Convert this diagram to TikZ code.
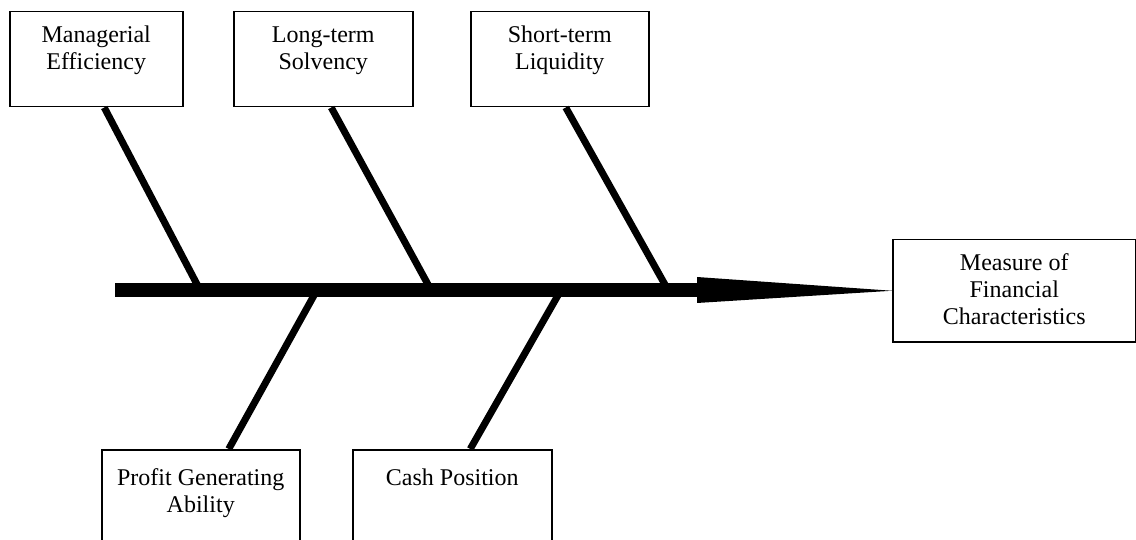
\documentclass[tikz,border=0pt]{standalone}
\usepackage{fontspec}
\setmainfont{Liberation Serif}

\begin{document}
\begin{tikzpicture}[x=1pt,y=-1pt,font=\fontsize{24}{27}\selectfont,
    cause/.style={draw,line width=1.5pt,align=center,inner xsep=0pt,inner ysep=0pt,anchor=north west},
    bone/.style={line width=7pt}]
      \useasboundingbox (0,0) rectangle (1136,540);
      % causes above the spine
      \node[cause,minimum width=173pt,text height=58pt,text depth=37pt] (mgr) at (9,11) {Managerial\\Efficiency};
      \node[cause,minimum width=179pt,text height=58pt,text depth=37pt] (lts) at (233,11) {Long-term\\Solvency};
      \node[cause,minimum width=178pt,text height=58pt,text depth=37pt] (stl) at (470,11) {Short-term\\Liquidity};
      % causes below the spine
      \node[cause,minimum width=198pt,text height=63pt,text depth=40pt] (pga) at (101,449) {Profit Generating\\Ability};
      \node[cause,minimum width=199pt,text height=36pt,text depth=67pt] (cash) at (352,449) {Cash Position};
      % effect
      \node[cause,minimum width=243pt,text height=85pt,text depth=17pt] (mfc) at (892,239) {Measure of\\Financial\\Characteristics};
      \coordinate (tail) at (115,290);
      \coordinate (j1) at (200,290);
      \coordinate (j2) at (431,290);
      \coordinate (j3) at (668,290);
      \coordinate (j4) at (317,290);
      \coordinate (j5) at (561,290);
      \coordinate (neck) at (700,290);
      \draw[bone] ([xshift=8pt]mgr.south) -- (j1);
      \draw[bone] ([xshift=8pt]lts.south) -- (j2);
      \draw[bone] ([xshift=6pt]stl.south) -- (j3);
      \draw[bone] (j4) -- ([xshift=28pt]pga.north);
      \draw[bone] (j5) -- ([xshift=18pt]cash.north);
      % spine and head
      \draw[line width=14pt] (tail) -- (neck);
      \fill ([xshift=-3pt,yshift=13pt]neck) -- (mfc.west) -- ([xshift=-3pt,yshift=-13pt]neck) -- cycle;
    \end{tikzpicture}
\end{document}
